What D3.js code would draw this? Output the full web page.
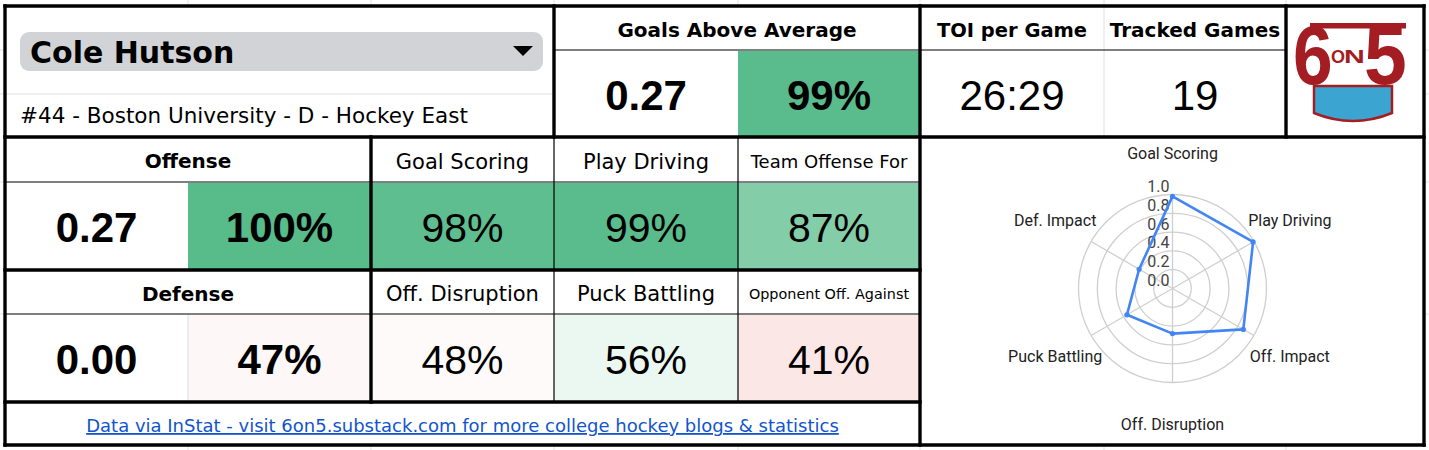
<!DOCTYPE html>
<html><head><meta charset="utf-8">
<script src="https://cdn.jsdelivr.net/npm/d3@7/dist/d3.min.js"></script>
<style>html,body{margin:0;padding:0;background:#fff;}svg{display:block;}</style>
</head><body>
<script>
// ---------- data ----------
const playerName = "Cole Hutson";
const playerInfo = "#44 - Boston University - D - Hockey East";
const summaryLabels = ["Goals Above Average", "TOI per Game", "Tracked Games"];
const gaaValue = "0.27";
const gaaPct = 99;
const toiValue = "26:29";
const gamesValue = "19";
const sectionNames = ["Offense", "Defense"];
const sectionValues = ["0.27", "0.00"];
const sectionPct = [100, 47];
const offenseMetrics = ["Goal Scoring", "Play Driving", "Team Offense For"];
const offensePct = [98, 99, 87];
const defenseMetrics = ["Off. Disruption", "Puck Battling", "Opponent Off. Against"];
const defensePct = [48, 56, 41];
const radarAxes = ["Goal Scoring", "Play Driving", "Off. Impact", "Off. Disruption", "Puck Battling", "Def. Impact"];
const radarValues = [0.98, 0.99, 0.87, 0.48, 0.56, 0.41];
const radarTicks = [0, 0.2, 0.4, 0.6, 0.8, 1.0];
const footerText = "Data via InStat - visit 6on5.substack.com for more college hockey blogs & statistics";

// ---------- layout ----------
const W = 1429, H = 450;
const X = [5, 188, 371, 554, 738, 920, 1104, 1286, 1424];
const Y = {top: 6, hdr: 50, mid: 94, r2: 137, r3: 182, r4: 270, r5: 314, r6: 402, bot: 445};
const SANS = "'DejaVu Sans', sans-serif";
const NUM = "'Liberation Sans', Arial, sans-serif";
const CAP = {dv: 0.729, lib: 0.716};

const pctColor = d3.scaleLinear().domain([0, 50, 100]).range(["#e67c73", "#ffffff", "#57bb8a"]);

const svg = d3.select("body").append("svg").attr("width", W).attr("height", H);
svg.append("rect").attr("width", W).attr("height", H).attr("fill", "#fff");

// faint spreadsheet gridlines in the background
const gridG = svg.append("g").attr("stroke", "#e2e2e2").attr("stroke-width", 1);
X.slice(1, 8).forEach(x => gridG.append("line").attr("x1", x).attr("x2", x).attr("y1", 0).attr("y2", H));
[Y.hdr, Y.mid, Y.r3, Y.r5].forEach(y => gridG.append("line").attr("x1", 0).attr("x2", W).attr("y1", y).attr("y2", y));
svg.append("rect").attr("x", X[0]).attr("y", Y.top).attr("width", X[8] - X[0]).attr("height", Y.bot - Y.top).attr("fill", "#fff");

function cell(x0, y0, x1, y1, fill) {
  svg.append("rect").attr("x", x0).attr("y", y0).attr("width", x1 - x0).attr("height", y1 - y0).attr("fill", fill);
}
function ctext(x0, y0, x1, y1, txt, family, size, weight, cap, dy) {
  svg.append("text")
    .attr("x", (x0 + x1) / 2)
    .attr("y", (y0 + y1) / 2 + cap * size / 2 + (dy || 1))
    .attr("text-anchor", "middle")
    .attr("font-family", family).attr("font-size", size).attr("font-weight", weight)
    .attr("fill", "#000").text(txt);
}

// ---------- top-left: player ----------
svg.append("rect").attr("x", 20).attr("y", 32).attr("width", 523).attr("height", 39).attr("rx", 9).attr("fill", "#d1d3d6");
svg.append("text").attr("x", 30).attr("y", 63).attr("font-family", SANS).attr("font-size", 30).attr("font-weight", "bold").text(playerName);
svg.append("path").attr("d", d3.line()([[513, 46], [533, 46], [523, 56]]) + "Z").attr("fill", "#000");
svg.append("line").attr("x1", X[0]).attr("x2", X[3]).attr("y1", Y.mid).attr("y2", Y.mid).attr("stroke", "#e0e0e0");
svg.append("text").attr("x", 20).attr("y", 123).attr("font-family", SANS).attr("font-size", 21.5).text(playerInfo);

// ---------- top: summary ----------
ctext(X[3], Y.top, X[5], Y.hdr, summaryLabels[0], SANS, 20, "bold", CAP.dv, 1.5);
ctext(X[5], Y.top, X[6], Y.hdr, summaryLabels[1], SANS, 19.5, "bold", CAP.dv, 1.5);
ctext(X[6], Y.top, X[7], Y.hdr, summaryLabels[2], SANS, 20, "bold", CAP.dv, 1.5);
cell(X[4], Y.hdr + 1, X[5], Y.r2, pctColor(gaaPct));
ctext(X[3], Y.hdr, X[4], Y.r2, gaaValue, NUM, 42, "bold", CAP.lib);
ctext(X[4], Y.hdr, X[5], Y.r2, gaaPct + "%", NUM, 42, "bold", CAP.lib);
svg.append("line").attr("x1", X[6]).attr("x2", X[6]).attr("y1", Y.top).attr("y2", Y.r2).attr("stroke", "#e0e0e0");
ctext(X[5], Y.hdr, X[6], Y.r2, toiValue, NUM, 42, "normal", CAP.lib);
ctext(X[6], Y.hdr, X[7], Y.r2, gamesValue, NUM, 42, "normal", CAP.lib);

// ---------- logo ----------
const logo = svg.append("g");
const red = "#a41d22", blue = "#3ca4d1";
logo.append("path")
  .attr("d", "M1314,86 L1392,86 L1392,113 Q1353,129 1314,113 Z")
  .attr("fill", blue).attr("stroke", red).attr("stroke-width", 2.5);
logo.append("rect").attr("x", 1310).attr("y", 23).attr("width", 96).attr("height", 5.5).attr("fill", red);
logo.append("text").attr("transform", "translate(1293,84) scale(0.88,1.02)")
  .attr("font-family", NUM).attr("font-weight", "bold").attr("font-size", 81).attr("fill", red).text("6");
logo.append("text").attr("transform", "translate(1364,84) scale(0.95,1.02)")
  .attr("font-family", NUM).attr("font-weight", "bold").attr("font-size", 81).attr("fill", red).text("5");
logo.append("text").attr("x", 1331).attr("y", 63).attr("font-family", NUM).attr("font-weight", "bold")
  .attr("font-size", 18).attr("fill", red).text("O");
logo.append("text").attr("transform", "translate(1344,63) scale(1.6,1)").attr("font-family", NUM).attr("font-weight", "bold")
  .attr("font-size", 18).attr("fill", red).text("N");

// ---------- offense / defense ----------
const rows = [
  {y0: Y.r2, y1: Y.r3, y2: Y.r4, metrics: offenseMetrics, pct: offensePct},
  {y0: Y.r4, y1: Y.r5, y2: Y.r6, metrics: defenseMetrics, pct: defensePct}
];
const metricSizes = [[21, 21, 18], [21, 21, 14.4]];
rows.forEach((r, i) => {
  ctext(X[0], r.y0, X[2], r.y1, sectionNames[i], SANS, 20, "bold", CAP.dv, 1.5);
  cell(X[1], r.y1 + 1, X[2], r.y2, pctColor(sectionPct[i]));
  ctext(X[0], r.y1, X[1], r.y2, sectionValues[i], NUM, 42, "bold", CAP.lib);
  ctext(X[1], r.y1, X[2], r.y2, sectionPct[i] + "%", NUM, 42, "bold", CAP.lib);
  r.metrics.forEach((m, j) => {
    const x0 = X[2 + j], x1 = X[3 + j];
    cell(x0, r.y1 + 1, x1, r.y2, pctColor(r.pct[j]));
    ctext(x0, r.y0, x1, r.y1, m, SANS, metricSizes[i][j], "normal", CAP.dv, 1.5);
    ctext(x0, r.y1, x1, r.y2, r.pct[j] + "%", NUM, 41, "normal", CAP.lib);
  });
});
svg.append("line").attr("x1", X[1]).attr("x2", X[1]).attr("y1", Y.r5).attr("y2", Y.r6).attr("stroke", "#dcdcdc");

// footer
svg.append("text").attr("x", (X[0] + X[5]) / 2).attr("y", 432)
  .attr("text-anchor", "middle").attr("font-family", SANS).attr("font-size", 18)
  .attr("fill", "#1155cc").style("text-decoration", "underline").text(footerText);

// ---------- thin borders ----------
const thin = svg.append("g").attr("stroke", "#000").attr("stroke-width", 1.2);
[[X[3], X[7], Y.hdr], [X[0], X[5], Y.r3], [X[0], X[5], Y.r5]].forEach(([a, b, y]) =>
  thin.append("line").attr("x1", a).attr("x2", b).attr("y1", y).attr("y2", y));
[X[3], X[4]].forEach(x => thin.append("line").attr("x1", x).attr("x2", x).attr("y1", Y.r2).attr("y2", Y.r6));

// ---------- thick borders ----------
const thick = svg.append("g").attr("stroke", "#000").attr("stroke-width", 3.4).attr("stroke-linecap", "square");
[[X[0], X[8], Y.top], [X[0], X[8], Y.r2], [X[0], X[5], Y.r4], [X[0], X[5], Y.r6], [X[0], X[8], Y.bot]].forEach(([a, b, y]) =>
  thick.append("line").attr("x1", a).attr("x2", b).attr("y1", y).attr("y2", y));
[[X[0], Y.top, Y.bot], [X[3], Y.top, Y.r2], [X[5], Y.top, Y.bot], [X[7], Y.top, Y.r2], [X[8], Y.top, Y.bot], [X[2], Y.r2, Y.r6]].forEach(([x, a, b]) =>
  thick.append("line").attr("x1", x).attr("x2", x).attr("y1", a).attr("y2", b));

// ---------- radar ----------
const cx = 1172.5, cy = 288.5, R = 94;
const rScale = d3.scaleLinear().domain([0, 1]).range([0, R]);
const ang = d3.scaleLinear().domain([0, radarAxes.length]).range([0, 2 * Math.PI]);
const rg = svg.append("g").attr("transform", `translate(${cx},${cy})`);
rg.selectAll("circle.ring").data(radarTicks.filter(t => t > 0)).join("circle")
  .attr("r", d => rScale(d)).attr("fill", "none").attr("stroke", "#cfcfcf").attr("stroke-width", 1.3);
rg.selectAll("line.spoke").data(radarAxes).join("line")
  .attr("x1", 0).attr("y1", 0)
  .attr("x2", (d, i) => Math.sin(ang(i)) * R).attr("y2", (d, i) => -Math.cos(ang(i)) * R)
  .attr("stroke", "#cfcfcf").attr("stroke-width", 1.3);
rg.selectAll("text.tick").data(radarTicks).join("text")
  .attr("x", -3).attr("y", d => -rScale(d) - 2.5)
  .attr("text-anchor", "end").attr("font-family", "Roboto, sans-serif").attr("font-size", 16)
  .attr("fill", "#444").text(d => d.toFixed(1));
const labelR = R + 41.5;
rg.selectAll("text.axis").data(radarAxes).join("text")
  .attr("x", (d, i) => Math.sin(ang(i)) * labelR)
  .attr("y", (d, i) => -Math.cos(ang(i)) * labelR + 5.7)
  .attr("text-anchor", "middle").attr("font-family", "Roboto, sans-serif").attr("font-size", 16)
  .attr("fill", "#222").text(d => d);
const radial = d3.lineRadial().angle((d, i) => ang(i)).radius(d => rScale(d)).curve(d3.curveLinearClosed);
rg.append("path").attr("d", radial(radarValues)).attr("fill", "none")
  .attr("stroke", "#4285f4").attr("stroke-width", 2.6).attr("stroke-linejoin", "round");
rg.selectAll("circle.pt").data(radarValues).join("circle")
  .attr("cx", (d, i) => Math.sin(ang(i)) * rScale(d)).attr("cy", (d, i) => -Math.cos(ang(i)) * rScale(d))
  .attr("r", 2.6).attr("fill", "#4285f4");
</script>
</body></html>
